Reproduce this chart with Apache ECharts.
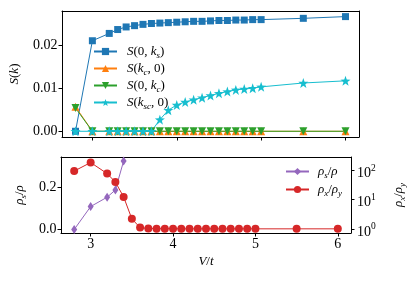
<!DOCTYPE html>
<html><head><meta charset="utf-8">
<script src="https://cdn.jsdelivr.net/npm/echarts@6/dist/echarts.min.js"></script>
<style>html,body{margin:0;padding:0;background:#fff}#c{width:415px;height:281px}</style>
</head><body><div id="c"></div><script>
// ---- data ----
const V = [2.8,3.0,3.2,3.3,3.4,3.5,3.6,3.7,3.8,3.9,4.0,4.1,4.2,4.3,4.4,4.5,4.6,4.7,4.8,4.9,5.0,5.5,6.0];
const S_0_ks  = [0,0.0210,0.0227,0.0236,0.0242,0.0245,0.0248,0.0250,0.0251,0.0252,0.0253,0.0254,0.0255,0.0255,0.0256,0.0257,0.0257,0.0258,0.0258,0.0259,0.0259,0.0262,0.0266];
const S_kc_0  = [0.0057,0,0,0,0,0,0,0,0,0,0,0,0,0,0,0,0,0,0,0,0,0,0];
const S_0_kc  = [0.0054,0,0,0,0,0,0,0,0,0,0,0,0,0,0,0,0,0,0,0,0,0,0];
const S_ksc_0 = [0,0,0,0,0,0,0,0,0.0027,0.0049,0.0061,0.0068,0.0073,0.0078,0.0083,0.0088,0.0092,0.0096,0.0098,0.0100,0.0103,0.0112,0.0117];
const V_rhos = [2.8,3.0,3.2,3.3,3.4];
const rho_s  = [0.0,0.108,0.152,0.186,0.322];
const rho_xy = [95,186,78,40,12.4,2.2,1.1,1.03,1.01,1.01,1.01,1.0,1.0,1.0,1.0,1.0,1.0,1.0,1.0,1.0,1.0,1.0,1.0];
const xTicks = [3,4,5,6];
const sTicks = [0,0.01,0.02];
const rhoTicks = [0,0.2];
const ratioTicks = [1,10,100];
const ratioExp = {1:'0',10:'1',100:'2'};

const F = 'Liberation Serif';
const rich = {
  it:{fontFamily:F,fontStyle:'italic',fontSize:13,lineHeight:13,verticalAlign:'top',color:'#000'},
  rm:{fontFamily:F,fontSize:13,lineHeight:13,verticalAlign:'top',color:'#000'},
  sub:{fontFamily:F,fontStyle:'italic',fontSize:9,lineHeight:9,verticalAlign:'top',padding:[6,0,0,0],color:'#000'},
  b:{fontFamily:F,fontSize:14,lineHeight:14,verticalAlign:'top',padding:[3,0,0,0],color:'#000'},
  sup:{fontFamily:F,fontSize:9.5,lineHeight:10,verticalAlign:'top',color:'#000'}
};
const legendRich = {
  'S(0, k_s)':'{it|S}{rm|(0, }{it|k}{sub|s}{rm|)}',
  'S(k_c, 0)':'{it|S}{rm|(}{it|k}{sub|c}{rm|, 0)}',
  'S(0, k_c)':'{it|S}{rm|(0, }{it|k}{sub|c}{rm|)}',
  'S(k_sc, 0)':'{it|S}{rm|(}{it|k}{sub|sc}{rm|, 0)}',
  'rho_s/rho':'{it|ρ}{sub|s}{rm|/}{it|ρ}',
  'rho_x/rho_y':'{it|ρ}{sub|x}{rm|/}{it|ρ}{sub|y}'
};
const pairs = (xs, ys) => xs.map((x,i)=>[x, ys[i]]);
const star = 'path://M100,0 L123.5,67.6 L195.1,69.1 L138,112.4 L158.8,180.9 L100,140 L41.2,180.9 L62,112.4 L4.9,69.1 L76.5,67.6 Z';

const line = {color:'#000',width:1};
const tick = (vals)=>({show:true,length:3.5,lineStyle:{color:'#000',width:1},customValues:vals});
const lbl = {fontFamily:F,fontSize:14,color:'#000'};
const frameX = (g,pos)=>({type:'value',gridIndex:g,position:pos,min:2.64,max:6.16,axisLine:{show:true,onZero:false,lineStyle:line},axisTick:{show:false},axisLabel:{show:false},splitLine:{show:false}});

const option = {
  animation:false,
  backgroundColor:'#fff',
  grid:[
    {left:61,top:11,width:298,height:126},
    {left:61,top:157,width:298,height:76}
  ],
  xAxis:[
    {type:'value',gridIndex:0,position:'bottom',min:2.64,max:6.16,axisLine:{show:true,onZero:false,lineStyle:line},axisTick:tick(xTicks),axisLabel:{show:false,customValues:xTicks},splitLine:{show:false}},
    frameX(0,'top'),
    {type:'value',gridIndex:1,position:'bottom',min:2.64,max:6.16,axisLine:{show:true,onZero:false,lineStyle:line},axisTick:tick(xTicks),
      axisLabel:Object.assign({customValues:xTicks,margin:4,formatter:v=>String(v)},lbl),splitLine:{show:false},
      name:'{it|V}{rm|/}{it|t}',nameLocation:'middle',nameGap:22,nameTextStyle:{rich:rich}},
    frameX(1,'top')
  ],
  yAxis:[
    {type:'value',gridIndex:0,position:'left',min:-0.00133,max:0.0279,axisLine:{show:true,onZero:false,lineStyle:line},axisTick:tick(sTicks),
      axisLabel:Object.assign({customValues:sTicks,margin:4.5,formatter:v=>v.toFixed(2)},lbl),splitLine:{show:false},
      name:'{it|S}{rm|(}{it|k}{rm|)}',nameLocation:'middle',nameGap:41,nameRotate:90,nameTextStyle:{rich:rich}},
    {type:'value',gridIndex:0,position:'right',min:-0.00133,max:0.0279,axisLine:{show:true,onZero:false,lineStyle:line},axisTick:{show:false},axisLabel:{show:false},splitLine:{show:false}},
    {type:'value',gridIndex:1,position:'left',min:-0.0164,max:0.341,axisLine:{show:true,onZero:false,lineStyle:line},axisTick:tick(rhoTicks),
      axisLabel:Object.assign({customValues:rhoTicks,margin:4.5,formatter:v=>v.toFixed(1)},lbl),splitLine:{show:false},
      name:'{it|ρ}{sub|s}{rm|/}{it|ρ}',nameLocation:'middle',nameGap:25,nameRotate:90,nameTextStyle:{rich:rich}},
    {type:'log',logBase:10,gridIndex:1,position:'right',min:0.72,max:288,axisLine:{show:true,onZero:false,lineStyle:line},axisTick:tick(ratioTicks),
      minorTick:{show:false},
      axisLabel:{customValues:ratioTicks,margin:6,formatter:v=>'{b|10}{sup|'+ratioExp[Math.round(v)]+'}',rich:rich},splitLine:{show:false},
      name:'{it|ρ}{sub|x}{rm|/}{it|ρ}{sub|y}',nameLocation:'middle',nameGap:41,nameRotate:90,nameTextStyle:{rich:rich}}
  ],
  legend:[
    {data:['S(0, k_s)','S(k_c, 0)','S(0, k_c)','S(k_sc, 0)'],orient:'vertical',left:93,top:45,itemWidth:23,itemHeight:9,itemGap:2,padding:0,
      formatter:n=>legendRich[n],textStyle:{rich:rich,padding:[0,0,0,5]}},
    {data:['rho_s/rho','rho_x/rho_y'],orient:'vertical',left:285,top:165,itemWidth:23,itemHeight:9,itemGap:3,padding:0,
      formatter:n=>legendRich[n],textStyle:{rich:rich,padding:[0,0,0,4]}}
  ],
  series:[
    {name:'S(0, k_s)',type:'line',xAxisIndex:0,yAxisIndex:0,data:pairs(V,S_0_ks),symbol:'rect',symbolSize:7,itemStyle:{color:'#1f77b4'},lineStyle:{color:'#1f77b4',width:1}},
    {name:'S(k_c, 0)',type:'line',xAxisIndex:0,yAxisIndex:0,data:pairs(V,S_kc_0),symbol:'triangle',symbolSize:8,itemStyle:{color:'#ff7f0e'},lineStyle:{color:'#ff7f0e',width:1}},
    {name:'S(0, k_c)',type:'line',xAxisIndex:0,yAxisIndex:0,data:pairs(V,S_0_kc),symbol:'triangle',symbolRotate:180,symbolSize:8,itemStyle:{color:'#2ca02c'},lineStyle:{color:'#2ca02c',width:1}},
    {name:'S(k_sc, 0)',type:'line',xAxisIndex:0,yAxisIndex:0,data:pairs(V,S_ksc_0),symbol:star,symbolSize:10,itemStyle:{color:'#17becf'},lineStyle:{color:'#17becf',width:1}},
    {name:'rho_s/rho',type:'line',xAxisIndex:2,yAxisIndex:2,data:pairs(V_rhos,rho_s),symbol:'diamond',symbolSize:[6,9],itemStyle:{color:'#9467bd'},lineStyle:{color:'#9467bd',width:1}},
    {name:'rho_x/rho_y',type:'line',xAxisIndex:2,yAxisIndex:3,data:pairs(V,rho_xy),symbol:'circle',symbolSize:8,itemStyle:{color:'#d62728'},lineStyle:{color:'#d62728',width:1}}
  ]
};
const chart = echarts.init(document.getElementById('c'),null,{renderer:'canvas'});
chart.setOption(option);
</script></body></html>
